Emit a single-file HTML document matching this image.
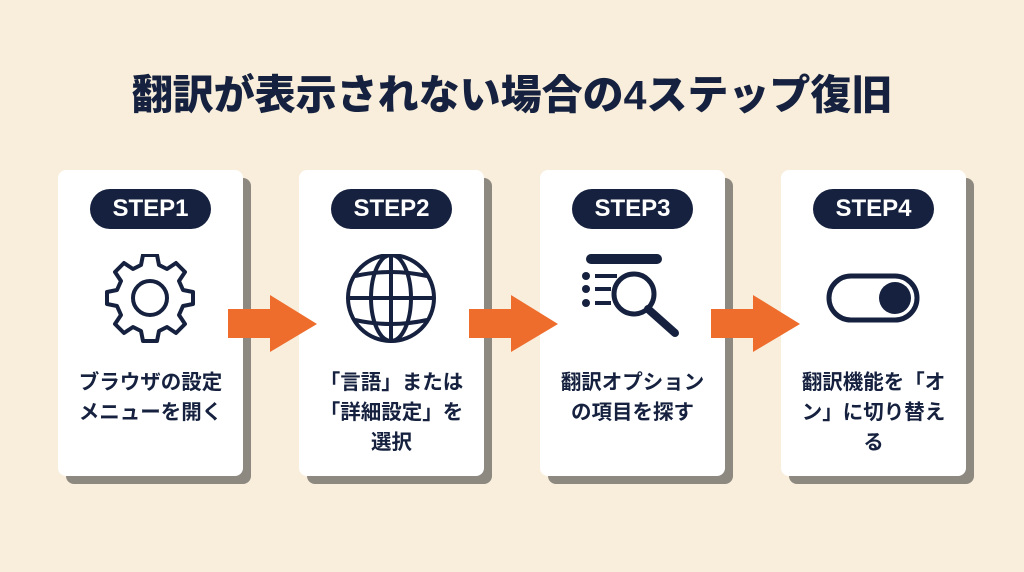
<!DOCTYPE html>
<html><head><meta charset="utf-8"><style>
body{margin:0;width:1024px;height:572px;background:#f8eedb;position:relative;overflow:hidden;font-family:"Liberation Sans","Noto Sans CJK JP",sans-serif;color:#15213e}
.title{position:absolute;left:0;width:1024px;top:61px;text-align:center;font-size:41px;font-weight:900;letter-spacing:0px}
.card{position:absolute;top:170px;width:185px;height:306px;background:#fff;border-radius:8px;box-shadow:8px 8px 0 #8d8880}
.pill{position:absolute;left:32px;top:19px;width:121px;height:40px;border-radius:20px;background:#15213e;color:#fff;font-weight:bold;font-size:24px;line-height:40px;text-align:center}
.icon{position:absolute;left:42px;top:84px;width:100px;height:90px}
.txt{position:absolute;left:-5px;width:195px;top:198px;text-align:center;font-size:20.5px;font-weight:bold;line-height:30px}
.arrow{position:absolute;top:294px}
</style></head><body>
<div class="title">翻訳が表示されない場合の4ステップ復旧</div>

<div class="card" style="left:58px">
<div class="pill">STEP1</div>
<svg class="icon" viewBox="0 0 100 90"><g transform="translate(50,44)" fill="none" stroke="#15213e" stroke-width="4" stroke-linejoin="round">
<path d="M-7,-43 L7,-43 L9,-33 L17,-29 L26,-35 L35,-26 L29,-17 L33,-8 L43,-6 L43,6 L33,8 L29,17 L35,26 L26,35 L17,29 L9,33 L7,43 L-7,43 L-9,33 L-17,29 L-26,35 L-35,26 L-29,17 L-33,8 L-43,6 L-43,-6 L-33,-8 L-29,-17 L-35,-26 L-26,-35 L-17,-29 L-9,-33 Z"/>
<circle r="17"/></g></svg>
<div class="txt">ブラウザの設定<br>メニューを開く</div>
</div>

<div class="card" style="left:299px">
<div class="pill">STEP2</div>
<svg class="icon" viewBox="0 0 100 90"><g transform="translate(50,44)" fill="none" stroke="#15213e" stroke-width="4">
<circle r="43"/><ellipse rx="20" ry="43"/><line x1="0" y1="-43" x2="0" y2="43"/><line x1="-43" y1="0" x2="43" y2="0"/>
<path d="M-36,-22 Q0,-30 36,-22"/><path d="M-36,22 Q0,30 36,22"/></g></svg>
<div class="txt">「言語」または<br>「詳細設定」を<br>選択</div>
</div>

<div class="card" style="left:540px">
<div class="pill">STEP3</div>
<svg class="icon" viewBox="0 0 100 90"><g fill="#15213e" stroke="#15213e">
<rect x="4" y="0" width="76" height="10" rx="5" stroke="none"/>
<circle cx="4" cy="22" r="4" stroke="none"/><circle cx="4" cy="35" r="4" stroke="none"/><circle cx="4" cy="49" r="4" stroke="none"/>
<rect x="13" y="20" width="22" height="4" stroke="none"/><rect x="13" y="33" width="16" height="4" stroke="none"/><rect x="13" y="47" width="16" height="4" stroke="none"/>
<circle cx="52" cy="40" r="20" fill="none" stroke-width="5"/>
<line x1="66" y1="55" x2="93" y2="79" stroke-width="8" stroke-linecap="round"/></g></svg>
<div class="txt">翻訳オプション<br>の項目を探す</div>
</div>

<div class="card" style="left:781px">
<div class="pill">STEP4</div>
<svg class="icon" viewBox="0 0 100 90"><g>
<rect x="6" y="22" width="88" height="44" rx="22" fill="none" stroke="#15213e" stroke-width="5"/>
<circle cx="72" cy="44" r="16" fill="#15213e"/></g></svg>
<div class="txt">翻訳機能を「オ<br>ン」に切り替え<br>る</div>
</div>

<svg class="arrow" style="left:226px" width="92" height="60"><polygon points="2,15 44,15 44,1 91,30 44,58 44,44 2,44" fill="#ee6c2c"/></svg>
<svg class="arrow" style="left:467px" width="92" height="60"><polygon points="2,15 44,15 44,1 91,30 44,58 44,44 2,44" fill="#ee6c2c"/></svg>
<svg class="arrow" style="left:709px" width="92" height="60"><polygon points="2,15 44,15 44,1 91,30 44,58 44,44 2,44" fill="#ee6c2c"/></svg>
</body></html>
